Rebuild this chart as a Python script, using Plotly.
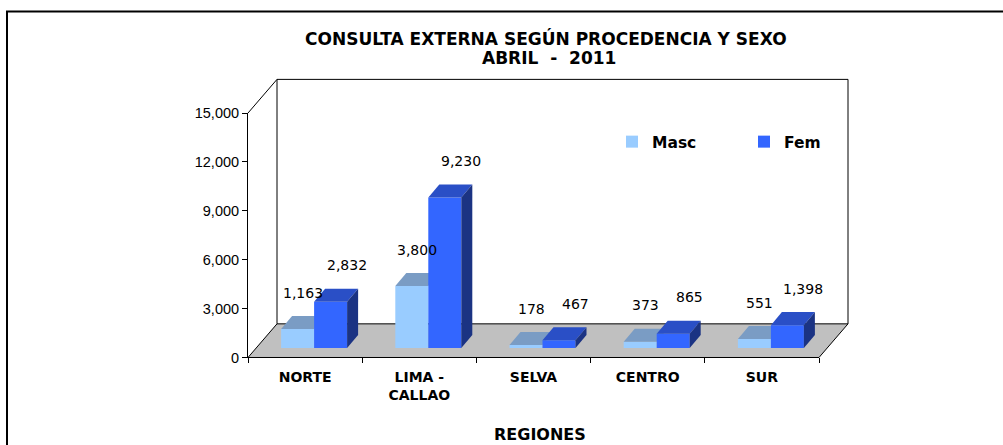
import plotly.graph_objects as go

# ---------------- data ----------------
categories = ["NORTE", "LIMA -<br>CALLAO", "SELVA", "CENTRO", "SUR"]
masc = [1163, 3800, 178, 373, 551]
fem = [2832, 9230, 467, 865, 1398]
y_ticks = [0, 3000, 6000, 9000, 12000, 15000]
title_1 = "CONSULTA EXTERNA SEGÚN PROCEDENCIA Y SEXO"
title_2 = "ABRIL\u00a0\u00a0-\u00a0\u00a02011"
x_title = "REGIONES"

# ---------------- geometry / style ----------------
W = 1003
OY, SY = 7.4, 0.961        # vertical mapping of the photographed page
H = 455                    # figure height
X0, X1 = 248, 819          # front plane x extent (ref px)
Y0, Y1 = 355.5, 112        # front plane y for 0 and 15000 (ref px)
DX, DY = 29, 33.5          # floor depth (px)
BX, BY = 9, 9.5            # bar plane shift (px)
YMAX = 15000
n = len(categories)
cat_px = (X1 - X0) / n
val_px = (Y0 - Y1) / YMAX
bar_w = 33 / cat_px
ddx = 11 / cat_px          # bar depth in x units
ddy = 13 / val_px          # bar depth in y units

C_MASC, C_MASC_TOP = "#99CCFF", "#7A9CC4"
C_FEM, C_FEM_TOP, C_FEM_SIDE = "#3366FF", "#2A4FC6", "#1B3383"
FONT = "DejaVu Sans"


def px(x):
    return x / W


def py(y):
    return 1 - ((y - OY) / SY) / H


centers = [i + 0.5 for i in range(n)]

fig = go.Figure()

# front axes holder (invisible trace)
fig.add_trace(go.Scatter(x=[None], y=[None], xaxis="x", yaxis="y",
                         showlegend=False, hoverinfo="skip"))

# ----- Masc bars (base plane subplot x2/y2) -----
fig.add_trace(go.Bar(x=centers, y=masc, width=bar_w, offset=-bar_w,
                     marker=dict(color=C_MASC, line=dict(width=0)),
                     name="Masc", xaxis="x2", yaxis="y2"))
for c, v in zip(centers, masc):
    xl = c - bar_w
    xr = c
    fig.add_trace(go.Scatter(
        x=[xl, xr, xr + ddx, xl + ddx, xl],
        y=[v, v, v + ddy, v + ddy, v],
        fill="toself", fillcolor=C_MASC_TOP, mode="lines",
        line=dict(width=0, color=C_MASC_TOP),
        showlegend=False, hoverinfo="skip", xaxis="x2", yaxis="y2"))

# ----- Fem bars (overlay subplot x3/y3, drawn above) -----
fig.add_trace(go.Bar(x=centers, y=fem, width=bar_w, offset=0,
                     marker=dict(color=C_FEM, line=dict(width=0)),
                     name="Fem", xaxis="x3", yaxis="y3"))
for c, v in zip(centers, fem):
    xl = c
    xr = c + bar_w
    fig.add_trace(go.Scatter(
        x=[xl, xr, xr + ddx, xl + ddx, xl],
        y=[v, v, v + ddy, v + ddy, v],
        fill="toself", fillcolor=C_FEM_TOP, mode="lines",
        line=dict(width=0, color=C_FEM_TOP),
        showlegend=False, hoverinfo="skip", xaxis="x3", yaxis="y3"))
    fig.add_trace(go.Scatter(
        x=[xr, xr, xr + ddx, xr + ddx, xr],
        y=[0, v, v + ddy, ddy, 0],
        fill="toself", fillcolor=C_FEM_SIDE, mode="lines",
        line=dict(width=0, color=C_FEM_SIDE),
        showlegend=False, hoverinfo="skip", xaxis="x3", yaxis="y3"))

# ----- data labels -----
LBL_UP = 35 / SY
annotations = []
for c, v in zip(centers, masc):
    annotations.append(dict(x=c - bar_w / 2, y=v, xref="x2", yref="y2",
                            text=f"{v:,}", showarrow=False, yshift=LBL_UP, xshift=5,
                            font=dict(family=FONT, size=14, color="black")))
for c, v in zip(centers, fem):
    annotations.append(dict(x=c + bar_w / 2, y=v, xref="x3", yref="y3",
                            text=f"{v:,}", showarrow=False, yshift=LBL_UP, xshift=16,
                            font=dict(family=FONT, size=14, color="black")))

# titles
annotations.append(dict(x=px(546), y=py(37.5), xref="paper", yref="paper",
                        text=title_1, showarrow=False, xanchor="center", yanchor="middle",
                        font=dict(family=FONT, size=17, color="black", weight="bold")))
annotations.append(dict(x=px(549), y=py(57.5), xref="paper", yref="paper",
                        text=title_2, showarrow=False, xanchor="center", yanchor="middle",
                        font=dict(family=FONT, size=17, color="black", weight="bold")))
annotations.append(dict(x=px(540), y=py(432), xref="paper", yref="paper",
                        text=x_title, showarrow=False, xanchor="center", yanchor="middle",
                        font=dict(family=FONT, size=16, color="black", weight="bold")))

# ----- decorations: floor, walls, border -----
line_k = dict(color="black", width=1)
shapes = [
    dict(type="rect", xref="paper", yref="paper", x0=px(7), y0=py(480),
         x1=px(W + 10), y1=py(11), line=dict(color="black", width=2), layer="below"),
    dict(type="path", xref="paper", yref="paper", layer="below",
         path=(f"M {px(X0)} {py(Y0)} L {px(X0 + DX)} {py(Y0 - DY)} "
               f"L {px(X1 + DX)} {py(Y0 - DY)} L {px(X1)} {py(Y0)} Z"),
         fillcolor="#C0C0C0", line=line_k),
    dict(type="line", xref="paper", yref="paper", layer="below",
         x0=px(X0 + DX), y0=py(Y0 - DY), x1=px(X0 + DX), y1=py(Y1 - DY), line=line_k),
    dict(type="line", xref="paper", yref="paper", layer="below",
         x0=px(X0 + DX), y0=py(Y1 - DY), x1=px(X1 + DX), y1=py(Y1 - DY), line=line_k),
    dict(type="line", xref="paper", yref="paper", layer="below",
         x0=px(X1 + DX), y0=py(Y1 - DY), x1=px(X1 + DX), y1=py(Y0 - DY), line=line_k),
    dict(type="line", xref="paper", yref="paper", layer="below",
         x0=px(X0), y0=py(Y1), x1=px(X0 + DX), y1=py(Y1 - DY), line=line_k),
]

hidden = dict(visible=False, showgrid=False, zeroline=False, fixedrange=True)

fig.update_layout(
    width=W, height=H,
    margin=dict(l=0, r=0, t=0, b=0),
    paper_bgcolor="white", plot_bgcolor="rgba(0,0,0,0)",
    showlegend=True,
    legend=dict(orientation="h", x=px(612), y=py(124), xanchor="left", yanchor="top",
                bgcolor="rgba(0,0,0,0)", entrywidth=87, entrywidthmode="pixels",
                font=dict(family=FONT, size=15.5, color="black", weight="bold"),
                itemclick=False, itemdoubleclick=False, traceorder="normal"),
    xaxis=dict(domain=[px(X0), px(X1)], range=[0, n], anchor="y",
               showline=True, linecolor="black", linewidth=1,
               tickmode="array", tickvals=centers, ticktext=categories, ticks="",
               ticklabelstandoff=7,
               tickfont=dict(family=FONT, size=14, color="black", weight="bold"),
               minor=dict(tickmode="array", tickvals=list(range(n + 1)), ticks="outside",
                          ticklen=5, tickcolor="black", tickwidth=1, showgrid=False),
               showgrid=False, zeroline=False, fixedrange=True),
    yaxis=dict(domain=[py(Y0), py(Y1)], range=[0, YMAX], anchor="x",
               showline=True, linecolor="black", linewidth=1,
               tickmode="array", tickvals=y_ticks, tickformat=",",
               ticks="outside", ticklen=5, tickcolor="black",
               tickfont=dict(family="Liberation Sans", size=14.5, color="black"),
               showgrid=False, zeroline=False, fixedrange=True),
    xaxis2=dict(domain=[px(X0 + BX), px(X1 + BX)], range=[0, n], anchor="y2", **hidden),
    yaxis2=dict(domain=[py(Y0 - BY), py(Y1 - BY)], range=[0, YMAX], anchor="x2", **hidden),
    xaxis3=dict(overlaying="x2", range=[0, n], anchor="y3", **hidden),
    yaxis3=dict(overlaying="y2", range=[0, YMAX], anchor="x3", **hidden),
    annotations=annotations,
    shapes=shapes,
)

fig.write_html("out.html", config={"displayModeBar": False, "staticPlot": True},
               post_script="document.body.style.margin='0';document.body.style.overflow='hidden';")
